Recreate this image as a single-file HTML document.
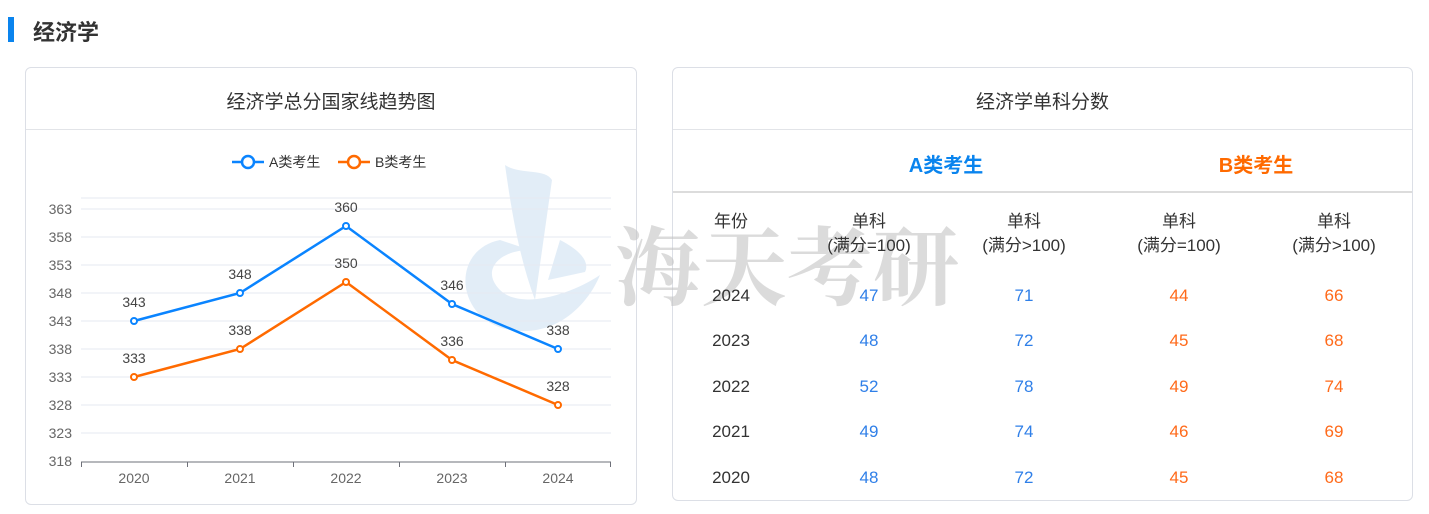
<!DOCTYPE html>
<html><head><meta charset="utf-8"><style>
body{margin:0;width:1429px;height:514px;background:#fff;position:relative;overflow:hidden;font-family:"Liberation Sans","Noto Sans CJK SC",sans-serif;color:#333}
.abs{position:absolute}
.card{position:absolute;border:1px solid #dcdfe6;border-radius:6px;background:#fff;box-sizing:border-box}
.t{position:absolute;text-align:center;white-space:nowrap}
</style></head><body>
<div class="abs" style="left:8px;top:17px;width:6px;height:25px;background:#0a84ee"></div>
<div class="abs" style="left:33px;top:15px;font-size:22px;font-weight:bold;color:#333">经济学</div>

<div class="card" style="left:25px;top:67px;width:612px;height:438px"></div>
<div class="abs" style="left:26px;top:129px;width:610px;height:1px;background:#e2e4e8"></div>
<div class="t" style="left:26px;width:610px;top:87px;font-size:19px;color:#333">经济学总分国家线趋势图</div>

<div class="card" style="left:672px;top:67px;width:741px;height:434px"></div>
<div class="abs" style="left:673px;top:129px;width:739px;height:1px;background:#e2e4e8"></div>
<div class="abs" style="left:673px;top:191px;width:739px;height:2px;background:#dcdcdc"></div>
<div class="t" style="left:673px;width:739px;top:87px;font-size:19px;color:#333">经济学单科分数</div>
<div class="t" style="left:846px;width:200px;top:149px;font-size:20px;font-weight:bold;color:#0a84ee">A类考生</div>
<div class="t" style="left:1156px;width:200px;top:149px;font-size:20px;font-weight:bold;color:#ff6a00">B类考生</div>

<svg class="abs" style="left:0;top:0" width="1429" height="514">
<g opacity="0.4">
<path d="M505 165 C520 175 545 168 552 180 L535 300 C520 260 512 215 505 165Z" fill="#b9d3ec"/>
<path d="M500 240 C450 250 455 320 510 330 C560 338 590 300 600 275 C570 295 520 310 500 290 C480 270 500 250 530 250Z" fill="#b9d3ec"/>
<path d="M560 240 C580 250 590 262 585 272 L548 280 Z" fill="#b9d3ec"/>
</g>
<text x="615" y="298" font-family="'Noto Serif CJK SC',serif" font-size="86" font-weight="bold" fill="#c4c4c4" opacity="0.6">海天考研</text>
<g font-family="Liberation Sans, sans-serif" font-size="14" fill="#666" text-anchor="end">
<line x1="81" x2="611" y1="198" y2="198" stroke="#e6e9f2"/>
<g stroke="#e6e9f2" stroke-width="1">
<line x1="81" x2="611" y1="209" y2="209"/><line x1="81" x2="611" y1="237" y2="237"/>
<line x1="81" x2="611" y1="265" y2="265"/><line x1="81" x2="611" y1="293" y2="293"/>
<line x1="81" x2="611" y1="321" y2="321"/><line x1="81" x2="611" y1="349" y2="349"/>
<line x1="81" x2="611" y1="377" y2="377"/><line x1="81" x2="611" y1="405" y2="405"/>
<line x1="81" x2="611" y1="433" y2="433"/>
</g>
<text x="72" y="214">363</text><text x="72" y="242">358</text><text x="72" y="270">353</text>
<text x="72" y="298">348</text><text x="72" y="326">343</text><text x="72" y="354">338</text>
<text x="72" y="382">333</text><text x="72" y="410">328</text><text x="72" y="438">323</text><text x="72" y="466">318</text>
</g>
<g stroke="#6e7079" stroke-width="1">
<line x1="81" x2="611" y1="462" y2="462"/>
<line x1="81.5" x2="81.5" y1="462" y2="467"/><line x1="187.5" x2="187.5" y1="462" y2="467"/>
<line x1="293.5" x2="293.5" y1="462" y2="467"/><line x1="399.5" x2="399.5" y1="462" y2="467"/>
<line x1="505.5" x2="505.5" y1="462" y2="467"/><line x1="610.5" x2="610.5" y1="462" y2="467"/>
</g>
<g font-family="Liberation Sans, sans-serif" font-size="14" fill="#666" text-anchor="middle">
<text x="134" y="483">2020</text><text x="240" y="483">2021</text><text x="346" y="483">2022</text><text x="452" y="483">2023</text><text x="558" y="483">2024</text>
</g>
<polyline points="134,321 240,293 346,226 452,304 558,349" fill="none" stroke="#0a84ff" stroke-width="2.5"/>
<polyline points="134,377 240,349 346,282 452,360 558,405" fill="none" stroke="#ff6a00" stroke-width="2.5"/>
<g fill="#fff" stroke="#0a84ff" stroke-width="2">
<circle cx="134" cy="321" r="3"/><circle cx="240" cy="293" r="3"/><circle cx="346" cy="226" r="3"/><circle cx="452" cy="304" r="3"/><circle cx="558" cy="349" r="3"/>
</g>
<g fill="#fff" stroke="#ff6a00" stroke-width="2">
<circle cx="134" cy="377" r="3"/><circle cx="240" cy="349" r="3"/><circle cx="346" cy="282" r="3"/><circle cx="452" cy="360" r="3"/><circle cx="558" cy="405" r="3"/>
</g>
<g font-family="Liberation Sans, sans-serif" font-size="14" fill="#444" text-anchor="middle">
<text x="134" y="307">343</text><text x="240" y="279">348</text><text x="346" y="212">360</text><text x="452" y="290">346</text><text x="558" y="335">338</text>
<text x="134" y="363">333</text><text x="240" y="335">338</text><text x="346" y="268">350</text><text x="452" y="346">336</text><text x="558" y="391">328</text>
</g>
<line x1="232" x2="264" y1="162" y2="162" stroke="#0a84ff" stroke-width="2.5"/>
<circle cx="248" cy="162" r="6" fill="#fff" stroke="#0a84ff" stroke-width="2.5"/>
<text x="269" y="167" font-family="Liberation Sans,'Noto Sans CJK SC',sans-serif" font-size="14" fill="#333">A类考生</text>
<line x1="338" x2="370" y1="162" y2="162" stroke="#ff6a00" stroke-width="2.5"/>
<circle cx="354" cy="162" r="6" fill="#fff" stroke="#ff6a00" stroke-width="2.5"/>
<text x="375" y="167" font-family="Liberation Sans,'Noto Sans CJK SC',sans-serif" font-size="14" fill="#333">B类考生</text>

<g font-family="Liberation Sans,'Noto Sans CJK SC',sans-serif" font-size="17" text-anchor="middle" fill="#333">
<text x="731" y="227">年份</text>
<text x="869" y="227">单科</text><text x="869" y="251">(满分=100)</text>
<text x="1024" y="227">单科</text><text x="1024" y="251">(满分&gt;100)</text>
<text x="1179" y="227">单科</text><text x="1179" y="251">(满分=100)</text>
<text x="1334" y="227">单科</text><text x="1334" y="251">(满分&gt;100)</text>
<text x="731" y="301">2024</text><text x="731" y="346">2023</text><text x="731" y="392">2022</text><text x="731" y="437">2021</text><text x="731" y="483">2020</text>
<g fill="#2f7fe8">
<text x="869" y="301">47</text><text x="1024" y="301">71</text>
<text x="869" y="346">48</text><text x="1024" y="346">72</text>
<text x="869" y="392">52</text><text x="1024" y="392">78</text>
<text x="869" y="437">49</text><text x="1024" y="437">74</text>
<text x="869" y="483">48</text><text x="1024" y="483">72</text>
</g>
<g fill="#ff6a1a">
<text x="1179" y="301">44</text><text x="1334" y="301">66</text>
<text x="1179" y="346">45</text><text x="1334" y="346">68</text>
<text x="1179" y="392">49</text><text x="1334" y="392">74</text>
<text x="1179" y="437">46</text><text x="1334" y="437">69</text>
<text x="1179" y="483">45</text><text x="1334" y="483">68</text>
</g>
</g>
</svg>
</body></html>
